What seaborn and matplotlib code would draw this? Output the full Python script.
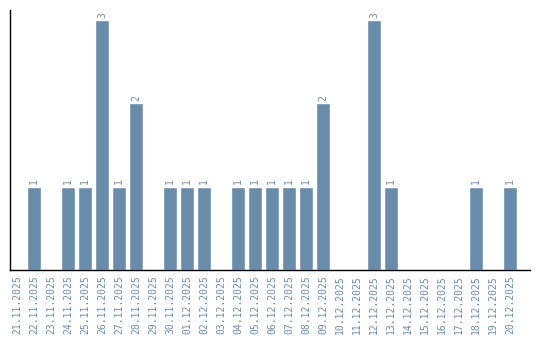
import matplotlib
matplotlib.use("Agg")
import matplotlib.pyplot as plt
import seaborn as sns
import pandas as pd

dates = ["21.11.2025", "22.11.2025", "23.11.2025", "24.11.2025", "25.11.2025",
         "26.11.2025", "27.11.2025", "28.11.2025", "29.11.2025", "30.11.2025",
         "01.12.2025", "02.12.2025", "03.12.2025", "04.12.2025", "05.12.2025",
         "06.12.2025", "07.12.2025", "08.12.2025", "09.12.2025", "10.12.2025",
         "11.12.2025", "12.12.2025", "13.12.2025", "14.12.2025", "15.12.2025",
         "16.12.2025", "17.12.2025", "18.12.2025", "19.12.2025", "20.12.2025"]
counts = [0, 1, 0, 1, 1, 3, 1, 2, 0, 1,
          1, 1, 0, 1, 1, 1, 1, 1, 2, 0,
          0, 3, 1, 0, 0, 0, 0, 1, 0, 1]

color = "#6a8cab"
sns.set_style("white")
plt.rcParams['font.family'] = ['DejaVu Sans Mono', 'DejaVu Sans']

df = pd.DataFrame({"date": dates, "count": counts})
fig = plt.figure(figsize=(5.4, 3.4), dpi=100)
ax = fig.add_axes([10/540, 1-270/340, 520/540, 260/340])
sns.barplot(data=df, x="date", y="count", color=color, width=0.82, ax=ax, saturation=1)
ax.set_ylim(0, 3.12)
ax.set_xlim(-0.41, 30.18)
ax.set_xlabel("")
ax.set_ylabel("")
ax.set_yticks([])
for s in ["top", "right"]:
    ax.spines[s].set_visible(False)
for s in ["left", "bottom"]:
    ax.spines[s].set_color("black")
    ax.spines[s].set_linewidth(1)
ax.tick_params(axis="x", length=0, pad=4, labelsize=7, labelcolor=color, rotation=90)
for i, v in enumerate(counts):
    if v > 0:
        ax.text(i, v + 0.03, str(v), rotation=90, ha="center", va="bottom",
                fontsize=7, color=color)
fig.savefig("out.png", dpi=100)
